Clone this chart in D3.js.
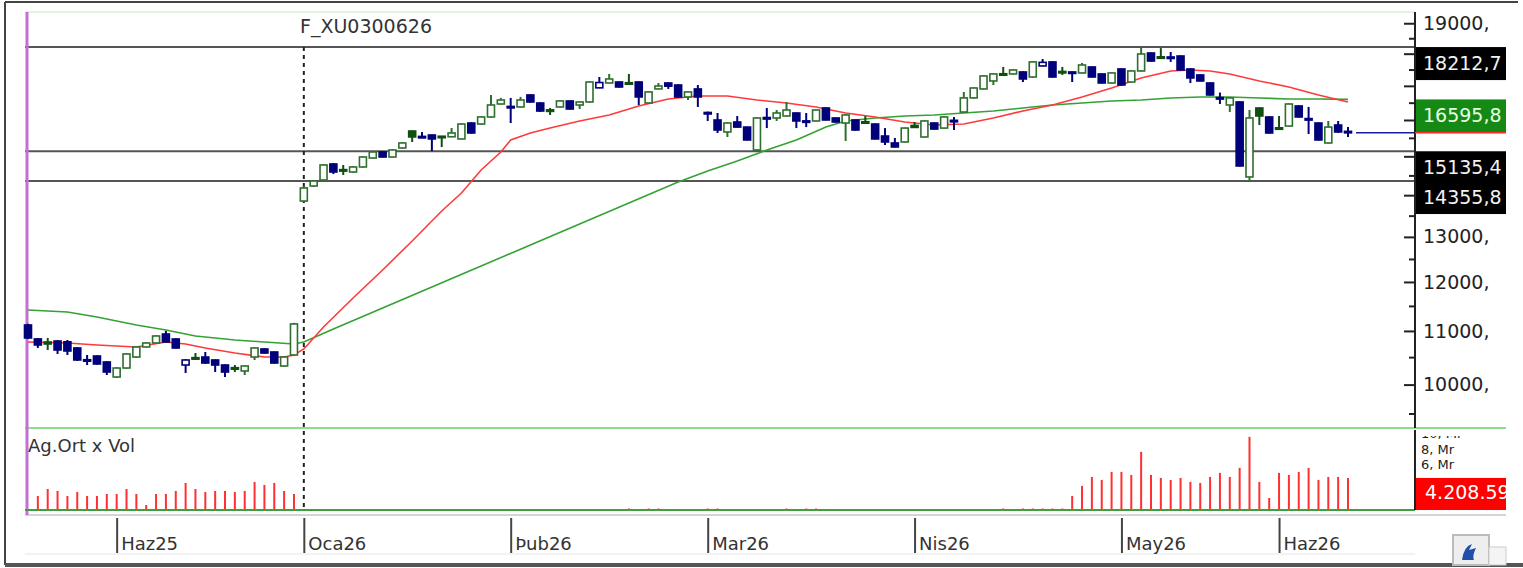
<!DOCTYPE html>
<html>
<head>
<meta charset="utf-8">
<script src="https://cdn.jsdelivr.net/npm/d3@7"></script>
<style>
  body { margin: 0; background: #fff; }
  svg { display: block; font-family: "DejaVu Sans", Verdana, sans-serif; }
</style>
</head>
<body>
<svg id="chart" width="1523" height="568"></svg>
<script>
// candles, one per bar index (0..134)
const open = [
  11117,10845,10786,10805,10790,10672,10452,10521,10410,10136,
  10299,10502,10691,10767,10940,10844,10354,10490,10502,10447,
  10354,10305,10245,10502,10653,10596,10336,10540,13855,14230,
  14382,14797,14650,14588,14719,14955,15116,14982,15224,15690,
  15540,15579,15545,15530,15470,15914,15886,16086,16461,16390,
  16374,16727,16490,16290,16374,16550,16432,16520,16940,17087,
  17117,17095,17117,16490,16907,17087,17026,16668,16907,16215,
  16000,15663,15943,15800,15170,16070,16057,16114,16200,15975,
  15972,16345,16057,15914,16000,15950,15886,15551,15360,15387,
  15845,15524,15914,15772,15990,16228,16640,16907,17148,17370,
  17363,17425,17270,17612,17738,17440,17425,17394,17580,17363,
  17087,17518,17117,17456,18022,17900,17895,17926,17518,17332,
  17087,16650,16432,16520,14460,16345,16086,15780,15830,16403,
  16040,15914,15360,15858,15680
];
const high = [
  11140,10860,10863,10820,10824,10690,10540,10530,10420,10310,
  10570,10700,10780,10915,10999,10855,10460,10577,10596,10455,
  10365,10354,10345,10680,10665,10605,10510,11160,14230,14382,
  14790,14823,14771,14740,15000,15140,15130,15190,15380,15700,
  15660,15590,15550,15775,15900,15930,16100,16727,16640,16640,
  16670,16740,16510,16345,16560,16560,16530,17130,17270,17363,
  17130,17363,17130,16830,17087,17100,17040,16830,17026,16240,
  16200,15930,16114,15810,16070,16345,16286,16520,16215,16200,
  16300,16360,16070,16160,16010,16114,15900,15772,15497,15786,
  15943,15990,15930,16100,16086,16817,16950,17320,17380,17580,
  17500,17440,17750,17830,17750,17580,17440,17706,17590,17370,
  17410,17530,17470,18212.7,18035,18180,18054,17940,17530,17345,
  17100,16800,16650,16540,16286,16360,16100,16114,16475,16420,
  16374,15930,15972,15972,15800
];
const low = [
  10845,10672,10634,10559,10540,10430,10354,10360,10172,10120,
  10290,10490,10680,10760,10775,10660,10208,10447,10380,10226,
  10136,10226,10172,10447,10565,10380,10320,10530,13830,14205,
  14370,14537,14511,14570,14700,14940,14970,14970,15210,15387,
  15500,15140,15250,15520,15460,15620,15870,16070,16450,15914,
  16360,16500,16230,16143,16360,16300,16315,16500,16930,17080,
  16950,17070,16432,16480,16900,16907,16650,16579,16374,15972,
  15635,15524,15790,15430,15135.4,15772,15972,16100,15772,15800,
  15960,15990,15930,15415,15700,15900,15460,15305,15240,15370,
  15780,15510,15730,15760,15718,16215,16620,16890,17026,17350,
  17350,17117,17250,17600,17250,17332,17117,17380,17255,17075,
  17070,17010,17100,17440,17750,17870,17738,17470,17087,17135,
  16710,16461,16230,14730,14355.8,15858,15620,15760,15815,16070,
  15607,15430,15345,15635,15524
];
const close = [
  10863,10729,10748,10634,10615,10447,10440,10373,10226,10299,
  10559,10691,10767,10902,10786,10672,10447,10470,10391,10354,
  10226,10290,10336,10672,10577,10391,10502,11137,14180,14357,
  14771,14588,14640,14719,14982,15116,14982,15170,15360,15525,
  15510,15470,15530,15635,15886,15635,16086,16432,16579,16370,
  16579,16520,16257,16265,16550,16315,16520,17117,17100,17209,
  16966,17087,16668,16817,16996,16990,16668,16817,16668,16200,
  15718,15914,15800,15442,16057,16050,16200,16286,15972,15960,
  16286,16000,15943,16143,15718,15935,15470,15387,15251,15772,
  15790,15972,15745,16086,15972,16640,16936,17301,17363,17365,
  17487,17209,17738,17725,17270,17425,17410,17643,17270,17087,
  17394,17026,17456,17990,17767,17890,17880,17487,17240,17148,
  16727,16630,16640,14745,16057,16114,15635,15770,16461,16086,
  16028,15442,15800,15663,15640
];
// volume, in millions (Mr)
const volume = [
  0,1.84,2.76,2.5,1.84,2.37,1.84,1.84,2.1,2.1,
  2.76,2.1,0.66,2.1,2.1,2.5,3.55,2.76,2.37,2.5,
  2.5,2.37,2.5,3.68,3.29,3.55,2.5,2.1,0,0,
  0,0,0,0,0,0,0,0,0,0,
  0,0,0,0,0,0,0,0,0,0,
  0,0,0,0,0,0,0,0,0,0,
  0,0.2,0,0.2,0.2,0,0,0,0,0.2,
  0.2,0,0,0,0,0,0,0.2,0,0.2,
  0.2,0,0,0,0,0,0,0,0,0,
  0,0,0,0,0,0,0,0,0,0.2,
  0,0.2,0.2,0.2,0.2,0.2,1.84,3.16,4.34,3.95,
  5.0,5.0,4.6,7.63,4.6,4.21,3.95,4.21,3.68,3.55,
  4.34,4.87,4.34,5.53,9.6,3.68,1.58,4.87,4.6,5.0,
  5.53,3.95,4.34,4.34,4.20859
];

// moving averages
const maRedIdx = [0,4,7,11,14,16,18,21,24,26,27,28,30,33,36,39,42,44,46,48,49,51,53,56,59,62,65,68,71,74,77,80,83,86,89,92,95,98,101,104,107,110,113,116,118,120,122,125,128,131,134];
const maRed = [10786,10767,10729,10691,10786,10748,10672,10577,10502,10502,10540,10653,11077,11663,12258,12905,13612,14054,14640,15116,15442,15635,15772,15972,16143,16403,16608,16697,16697,16579,16491,16374,16200,16086,15943,15858,15886,16057,16257,16432,16668,16936,17240,17456,17487,17456,17363,17148,16966,16727,16520];
const maGreenIdx = [0,4,7,11,14,17,21,24,27,28,31,36,41,46,51,56,61,66,69,72,75,78,81,83,86,89,92,95,98,101,104,107,110,113,116,119,122,125,128,131,134];
const maGreen = [11417,11376,11276,11117,11018,10902,10824,10786,10748,10786,11038,11458,11893,12345,12814,13301,13806,14331,14614,14876,15170,15442,15800,15972,16057,16114,16143,16200,16257,16345,16432,16491,16550,16579,16638,16668,16668,16638,16608,16608,16595.8];

const levels = [18212.7, 15135.4, 14355.8];
const priceTicks = [10000, 11000, 12000, 13000, 14000, 15000, 16000, 17000, 18000, 19000];
const priceMinor = [9500, 10500, 11500, 12500, 13500, 14500, 15500, 16500, 17500, 18500];
const volTicks = [1, 2, 3, 4, 5, 6, 7, 8, 9, 10];
const volLabels = [6, 8, 10];
const monthIdx = [9, 28, 49, 69, 90, 111, 127];
const monthLbl = ["Haz25", "Oca26", "Þub26", "Mar26", "Nis26", "May26", "Haz26"];
const title = "F_XU0300626";

const svg = d3.select("#chart");
const axisX = 1415, boxR = 1506, boxH = 33;

const x = d3.scaleLinear().domain([0, close.length - 1]).range([28, 1348]);
const y = d3.scaleLog().domain([9258, 19383]).range([428, 12]);
const yv = d3.scaleLinear().domain([0, 10.5]).range([510, 430]);

const BLUE = "#00007a", GREEN = "#2e6e2e", DKGREEN = "#0f4f0f";
const maLast = maGreen[maGreen.length - 1];

const defs = svg.append("defs");
defs.append("clipPath").attr("id", "rclip")
  .append("rect").attr("x", 0).attr("y", 0).attr("width", boxR).attr("height", 568);
defs.append("clipPath").attr("id", "vclip")
  .append("rect").attr("x", 0).attr("y", 436).attr("width", boxR).attr("height", 78);

// frame
svg.append("line").attr("x1", 5).attr("x2", 5).attr("y1", 2).attr("y2", 565).attr("stroke", "#444").attr("stroke-width", 2);
svg.append("line").attr("x1", 5).attr("x2", 1518).attr("y1", 2).attr("y2", 2).attr("stroke", "#444").attr("stroke-width", 2);
svg.append("line").attr("x1", 5).attr("x2", 1523).attr("y1", 565).attr("y2", 565).attr("stroke", "#555").attr("stroke-width", 4);

// panel borders
svg.append("line").attr("x1", 25).attr("x2", axisX).attr("y1", 12).attr("y2", 12).attr("stroke", "#e4f2e4").attr("stroke-width", 2);
svg.append("line").attr("x1", 25).attr("x2", boxR).attr("y1", 428).attr("y2", 428).attr("stroke", "#8fdc8f").attr("stroke-width", 2);
svg.append("line").attr("x1", 25).attr("x2", boxR).attr("y1", 515).attr("y2", 515).attr("stroke", "#d4d4d4").attr("stroke-width", 2);
svg.append("line").attr("x1", 25).attr("x2", axisX).attr("y1", 554).attr("y2", 554).attr("stroke", "#e6e6e6").attr("stroke-width", 1);

// level lines
svg.selectAll(".lvl").data(levels).enter().append("line")
  .attr("x1", 25).attr("x2", axisX)
  .attr("y1", d => y(d)).attr("y2", d => y(d))
  .attr("stroke", "#555").attr("stroke-width", 2);

// dashed divider and purple start line
svg.append("line").attr("x1", x(28)).attr("x2", x(28)).attr("y1", y(levels[0])).attr("y2", 510)
  .attr("stroke", "#222").attr("stroke-width", 2).attr("stroke-dasharray", "4,4");
svg.append("line").attr("x1", 27).attr("x2", 27).attr("y1", 12).attr("y2", 515)
  .attr("stroke", "#c36fd4").attr("stroke-width", 3);

// moving averages
const line = d3.line().x(d => x(d[0])).y(d => y(d[1]));
svg.append("path").datum(maGreenIdx.map((d, i) => [d, maGreen[i]]))
  .attr("d", line).attr("fill", "none").attr("stroke", "#34a234").attr("stroke-width", 1.6);
svg.append("path").datum(maRedIdx.map((d, i) => [d, maRed[i]]))
  .attr("d", line).attr("fill", "none").attr("stroke", "#ff3a3a").attr("stroke-width", 1.6);

// candles
const bars = d3.range(close.length).map(i => {
  const prev = i === 0 ? open[0] : close[i - 1];
  const up = close[i] >= prev;
  const filled = close[i] < open[i];
  return { i, o: open[i], h: high[i], l: low[i], c: close[i],
    color: up ? (filled ? DKGREEN : GREEN) : BLUE, filled };
});
const cg = svg.append("g");
cg.selectAll(".wick").data(bars).enter().append("line")
  .attr("x1", d => x(d.i)).attr("x2", d => x(d.i))
  .attr("y1", d => y(d.h)).attr("y2", d => y(d.l))
  .attr("stroke", d => d.color).attr("stroke-width", 2);
cg.selectAll(".body").data(bars).enter().append("rect")
  .attr("x", d => x(d.i) - 3.5).attr("width", 7)
  .attr("y", d => Math.min(y(d.o), y(d.c)))
  .attr("height", d => Math.max(1.5, Math.abs(y(d.o) - y(d.c))))
  .attr("fill", d => d.filled ? d.color : "#fff")
  .attr("stroke", d => d.color).attr("stroke-width", 1.6);

// last price line
const last = close[close.length - 1];
svg.append("line").attr("x1", x(close.length - 1) + 8).attr("x2", axisX)
  .attr("y1", y(last)).attr("y2", y(last)).attr("stroke", "#1a1aa0").attr("stroke-width", 1.5);

// volume
svg.selectAll(".vol").data(volume.map((v, i) => [i, v]).filter(d => d[1] > 0)).enter().append("line")
  .attr("x1", d => x(d[0])).attr("x2", d => x(d[0]))
  .attr("y1", yv(0)).attr("y2", d => yv(d[1]))
  .attr("stroke", "#ff3030").attr("stroke-width", 2);
svg.append("line").attr("x1", 25).attr("x2", axisX).attr("y1", 510).attr("y2", 510).attr("stroke", "#3f9f3f").attr("stroke-width", 2);

// price axis; a label under one of the value boxes is not drawn
const boxTops = [levels[0], maLast, levels[1], levels[2]].map(v => y(v));
const hidden = d => boxTops.some(t => y(d) > t - 9 && y(d) < t + boxH + 9);
const pa = svg.append("g").attr("transform", `translate(${axisX},0)`);
pa.call(d3.axisRight(y).tickValues(priceMinor).tickSize(-6).tickFormat(""));
pa.select(".domain").remove();
pa.selectAll("line").attr("stroke", "#222").attr("stroke-width", 2);
const pa2 = svg.append("g").attr("transform", `translate(${axisX},0)`);
pa2.call(d3.axisRight(y).tickValues(priceTicks).tickSize(-11).tickPadding(8)
  .tickFormat(d => hidden(d) ? "" : d + ","));
pa2.select(".domain").remove();
pa2.selectAll("text").attr("font-size", 19).attr("fill", "#222").attr("font-family", "DejaVu Sans, Verdana, sans-serif");
pa2.selectAll("line").attr("stroke", "#222").attr("stroke-width", 2);
svg.append("line").attr("x1", axisX).attr("x2", axisX).attr("y1", 12).attr("y2", 428).attr("stroke", "#222").attr("stroke-width", 2);

// volume axis
const va = svg.append("g").attr("transform", `translate(${axisX},0)`).attr("clip-path", "url(#vclip)");
va.call(d3.axisRight(yv).tickValues(volTicks).tickSize(-9).tickPadding(6)
  .tickFormat(d => volLabels.includes(d) ? d + ", Mr" : ""));
va.select(".domain").remove();
va.selectAll("line").attr("stroke", "#222").attr("stroke-width", 2);
va.selectAll("text").attr("font-size", 13).attr("fill", "#222").attr("font-family", "DejaVu Sans, Verdana, sans-serif");
svg.append("line").attr("x1", axisX).attr("x2", axisX).attr("y1", 430).attr("y2", 510).attr("stroke", "#222").attr("stroke-width", 2);

// value boxes
const fmt = v => v.toFixed(1).replace(".", ",");
const boxes = [
  { v: levels[0], bg: "#000", fg: "#f2f2f2" },
  { v: maLast, bg: "#148a14", fg: "#e6ffe6" },
  { v: levels[1], bg: "#000", fg: "#f2f2f2" },
  { v: levels[2], bg: "#000", fg: "#f2f2f2" }
];
const bg = svg.append("g").attr("clip-path", "url(#rclip)");
boxes.forEach(b => {
  const top = y(b.v);
  bg.append("rect").attr("x", axisX + 1).attr("y", top).attr("width", boxR - axisX - 1).attr("height", boxH).attr("fill", b.bg);
  bg.append("text").attr("x", axisX + 8).attr("y", top + 23).attr("font-size", 19).attr("fill", b.fg).text(fmt(b.v));
});
bg.append("line").attr("x1", axisX).attr("x2", boxR).attr("y1", y(last)).attr("y2", y(last)).attr("stroke", "#ff2a2a").attr("stroke-width", 1.5);
const lastVol = volume[volume.length - 1];
bg.append("rect").attr("x", axisX + 1).attr("y", yv(lastVol)).attr("width", boxR - axisX - 1).attr("height", yv(0) - yv(lastVol)).attr("fill", "#ff0000");
bg.append("text").attr("x", axisX + 10).attr("y", yv(lastVol) + 21).attr("font-size", 19).attr("fill", "#fff")
  .text(d3.format(",")(Math.round(lastVol * 1e6)).replace(/,/g, "."));

// titles
svg.append("text").attr("x", 300).attr("y", 33).attr("font-size", 19).attr("fill", "#333").text(title);
svg.append("text").attr("x", 28).attr("y", 452).attr("font-size", 18).attr("fill", "#333").text("Ag.Ort x Vol");

// x axis
const xa = svg.append("g").attr("transform", "translate(0,518)");
xa.call(d3.axisBottom(x).tickValues(monthIdx).tickSize(35).tickPadding(0).tickFormat((d, i) => monthLbl[i]));
xa.select(".domain").remove();
xa.selectAll("line").attr("stroke", "#444").attr("stroke-width", 2);
xa.selectAll("text").attr("font-size", 18).attr("fill", "#333").attr("text-anchor", "start")
  .attr("font-family", "DejaVu Sans, Verdana, sans-serif")
  .attr("x", 4).attr("y", 32).attr("dy", 0);

// small toolbar button, bottom right
svg.append("rect").attr("x", 1453).attr("y", 535).attr("width", 36).attr("height", 30).attr("fill", "#eee").attr("stroke", "#bbb").attr("stroke-width", 2);
svg.append("rect").attr("x", 1489).attr("y", 547).attr("width", 17).attr("height", 18).attr("fill", "#f4f4f4").attr("stroke", "#ccc");
svg.append("path").attr("d", "M1462,560 q2,-14 10,-16 l-3,6 l7,-2 q-4,8 -2,12 z").attr("fill", "#1f4fa8");
</script>
</body>
</html>
